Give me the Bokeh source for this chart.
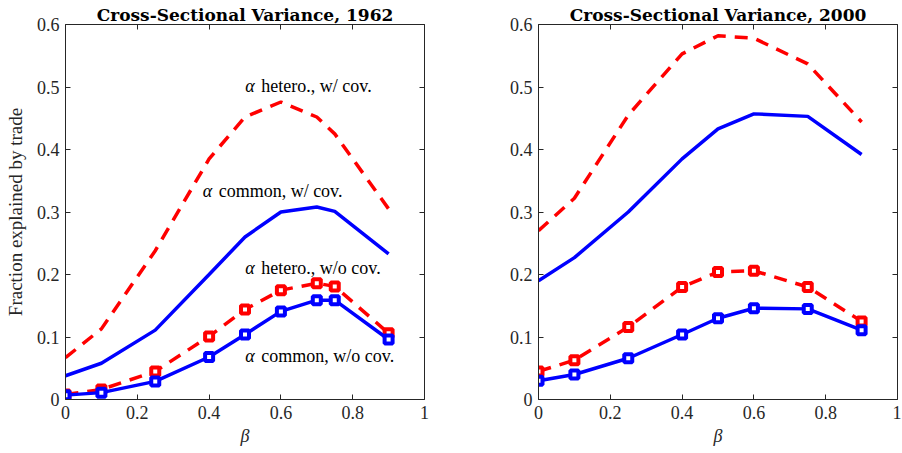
import numpy as np
from bokeh.plotting import figure
from bokeh.layouts import row
from bokeh.models import LinearAxis, Range1d, FixedTicker
from bokeh.core.properties import value
from bokeh.embed import file_html
from bokeh.resources import INLINE

# ---- data -------------------------------------------------------------
beta_1962 = [0, 0.1, 0.25, 0.4, 0.5, 0.6, 0.7, 0.75, 0.9]
hetero_cov_1962 = [0.067, 0.113, 0.238, 0.385, 0.452, 0.476, 0.452, 0.425, 0.305]
common_cov_1962 = [0.038, 0.058, 0.111, 0.200, 0.260, 0.300, 0.308, 0.301, 0.233]
hetero_nocov_1962 = [0.008, 0.016, 0.045, 0.101, 0.144, 0.175, 0.186, 0.181, 0.106]
common_nocov_1962 = [0.007, 0.011, 0.029, 0.068, 0.104, 0.141, 0.159, 0.159, 0.096]

beta_2000 = [0, 0.1, 0.25, 0.4, 0.5, 0.6, 0.75, 0.9]
hetero_cov_2000 = [0.270, 0.322, 0.455, 0.553, 0.582, 0.578, 0.537, 0.444]
common_cov_2000 = [0.190, 0.227, 0.300, 0.385, 0.433, 0.457, 0.453, 0.392]
hetero_nocov_2000 = [0.045, 0.063, 0.116, 0.180, 0.204, 0.206, 0.180, 0.125]
common_nocov_2000 = [0.030, 0.040, 0.066, 0.104, 0.130, 0.146, 0.145, 0.111]

x_ticks = [0, 0.2, 0.4, 0.6, 0.8, 1]
y_ticks = [0, 0.1, 0.2, 0.3, 0.4, 0.5, 0.6]

labels_1962 = ["hetero., w/ cov.", "common, w/ cov.", "hetero., w/o cov.", "common, w/o cov."]

# ---- styling ----------------------------------------------------------
FONT = "Liberation Serif"
TITLE_FONT = "DejaVu Serif"
AXIS_COLOR = "#262626"
RED = "#ff0000"
BLUE = "#0000ff"
DASH = "13 9"


def style_axis(ax, show_labels=True):
    ax.axis_line_color = AXIS_COLOR
    ax.axis_line_width = 1
    ax.major_tick_line_color = AXIS_COLOR
    ax.major_tick_in = 5
    ax.major_tick_out = 0
    ax.minor_tick_line_color = None
    ax.major_label_text_font = FONT
    ax.major_label_text_color = AXIS_COLOR
    ax.major_label_text_font_size = "18px"
    if not show_labels:
        # box edge with inward ticks only
        ax.major_label_text_color = None
        ax.major_label_standoff = 0


def panel(title, beta, hc, cc, hn, cn, borders, ylabel=None, notes=None):
    bl, br, bt, bb = borders
    p = figure(frame_width=359, frame_height=375,
               x_range=Range1d(0, 1), y_range=Range1d(0, 0.6),
               output_backend="svg", toolbar_location=None,
               min_border_left=bl, min_border_right=br,
               min_border_top=bt, min_border_bottom=bb)
    p.grid.visible = False
    p.outline_line_color = None
    p.background_fill_color = "white"
    p.border_fill_color = "white"

    p.title.text = title
    p.title.align = "center"
    p.title.text_font = TITLE_FONT
    p.title.text_font_style = "bold"
    p.title.text_font_size = "17px"
    p.title.text_color = "black"
    p.title.standoff = 0
    p.title.offset = 0

    p.xaxis.ticker = FixedTicker(ticks=x_ticks)
    p.yaxis.ticker = FixedTicker(ticks=y_ticks)
    p.xaxis.major_label_overrides = {0: "0", 1: "1"}
    p.yaxis.major_label_overrides = {0: "0"}
    for ax in p.xaxis + p.yaxis:
        style_axis(ax)
    p.xaxis.axis_label = "β"
    p.xaxis.axis_label_text_font = FONT
    p.xaxis.axis_label_text_font_style = "italic"
    p.xaxis.axis_label_text_font_size = "18px"
    p.xaxis.axis_label_text_color = AXIS_COLOR
    p.xaxis.axis_label_standoff = 4
    p.xaxis.major_label_standoff = 6
    p.yaxis.major_label_standoff = 6
    if ylabel:
        p.yaxis.axis_label = ylabel
        p.yaxis.axis_label_text_font = FONT
        p.yaxis.axis_label_text_font_style = "normal"
        p.yaxis.axis_label_text_font_size = "19px"
        p.yaxis.axis_label_text_color = AXIS_COLOR
        p.yaxis.axis_label_standoff = 8

    top = LinearAxis(ticker=FixedTicker(ticks=x_ticks),
                     major_label_overrides={t: "" for t in x_ticks})
    right = LinearAxis(ticker=FixedTicker(ticks=y_ticks),
                       major_label_overrides={t: "" for t in y_ticks})
    style_axis(top, False)
    style_axis(right, False)
    p.add_layout(top, "above")
    p.add_layout(right, "right")

    p.line(beta, hc, line_color=RED, line_width=3.5, line_dash=DASH)
    p.line(beta, cc, line_color=BLUE, line_width=3.5)
    p.line(beta, hn, line_color=RED, line_width=3.5, line_dash=DASH)
    p.scatter(beta, hn, marker="square", size=8, line_width=4,
              line_color=RED, fill_color="white")
    p.line(beta, cn, line_color=BLUE, line_width=3.5)
    p.scatter(beta, cn, marker="square", size=8, line_width=4,
              line_color=BLUE, fill_color="white")

    if notes:
        xs, ys, texts = notes
        p.text(xs, ys, text=["α"] * len(xs), text_font=value(FONT),
               text_font_style="italic", text_font_size="18px",
               text_baseline="middle", text_align="left", text_color="black")
        p.text(xs, ys, text=texts, text_font=value(FONT),
               text_font_size="18px", x_offset=16,
               text_baseline="middle", text_align="left", text_color="black")
    return p


note_x = [0.501, 0.382, 0.501, 0.501]
note_y = [0.502, 0.333, 0.210, 0.070]

p1 = panel("Cross-Sectional Variance, 1962", beta_1962,
           hetero_cov_1962, common_cov_1962, hetero_nocov_1962, common_nocov_1962,
           (65, 27, 24, 54), ylabel="Fraction explained by trade",
           notes=(note_x, note_y, labels_1962))
p2 = panel("Cross-Sectional Variance, 2000", beta_2000,
           hetero_cov_2000, common_cov_2000, hetero_nocov_2000, common_nocov_2000,
           (87, 4, 24, 54))

layout = row(p1, p2)
with open("out.html", "w") as f:
    f.write(file_html(layout, INLINE))
